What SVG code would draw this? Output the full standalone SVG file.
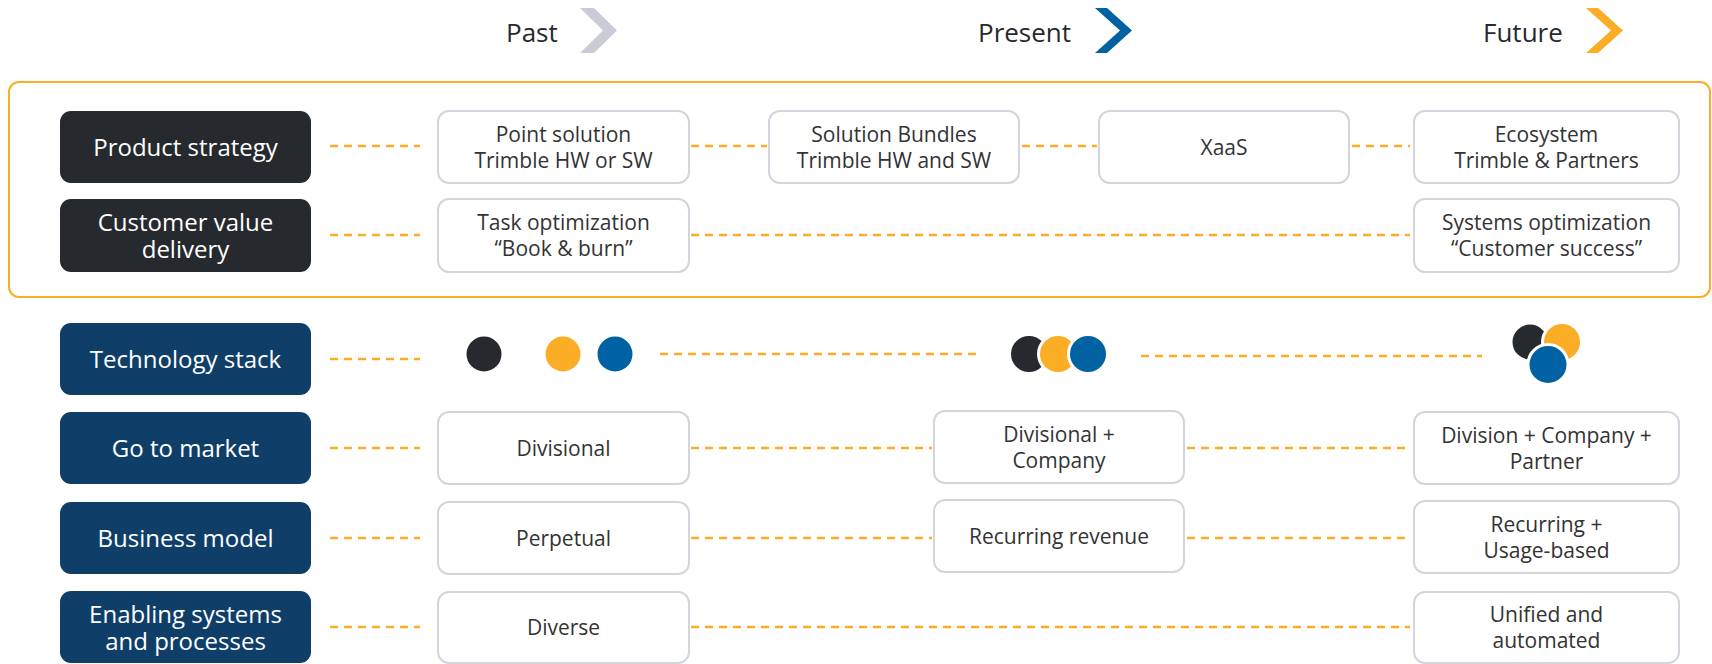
<svg xmlns="http://www.w3.org/2000/svg" width="1712" height="664" viewBox="0 0 1712 664">
<style>
.hdr{font-family:"Open Sans","Liberation Sans",sans-serif;font-size:26px;fill:#262a2f}
.lbl{font-family:"Open Sans","Liberation Sans",sans-serif;font-size:24px;fill:#ffffff;text-anchor:middle}
.txt{font-family:"Open Sans","Liberation Sans",sans-serif;font-size:21px;fill:#333333;text-anchor:middle}
.dark{fill:#262a2e}
.navy{fill:#0f3f68}
.box{fill:#ffffff;stroke:#d3d5dc;stroke-width:2}
.con{stroke:#fbad26;stroke-width:2.5;stroke-dasharray:8 6;fill:none}
.cd{fill:#262a2e;stroke:#ffffff;stroke-width:3}
.cy{fill:#fbad26;stroke:#ffffff;stroke-width:3}
.cb{fill:#0062a3;stroke:#ffffff;stroke-width:3}
</style>
<rect width="1712" height="664" fill="#ffffff"/>

<g id="header">
<text class="hdr" x="506" y="42">Past</text>
<polygon points="580,8 594,8 617,30.5 594,53 580,53 603,30.5" fill="#c9ccd6"/>
<text class="hdr" x="978" y="42">Present</text>
<polygon points="1095,8 1107,8 1132,30.5 1107,53 1095,53 1120,30.5" fill="#0062a3"/>
<text class="hdr" x="1483" y="42">Future</text>
<polygon points="1586,8 1598,8 1623,30.5 1598,53 1586,53 1611,30.5" fill="#fbad26"/>
</g>

<rect id="outer-frame" x="9" y="82" width="1701" height="215" rx="10" fill="none" stroke="#fbad26" stroke-width="2"/>

<g id="connectors">
<line class="con" x1="330" y1="146" x2="420" y2="146"/>
<line class="con" x1="691" y1="146" x2="767" y2="146"/>
<line class="con" x1="1022" y1="146" x2="1097" y2="146"/>
<line class="con" x1="1352" y1="146" x2="1410" y2="146"/>
<line class="con" x1="330" y1="235" x2="420" y2="235"/>
<line class="con" x1="691" y1="235" x2="1410" y2="235"/>
<line class="con" x1="330" y1="359" x2="420" y2="359"/>
<line class="con" x1="660" y1="354" x2="976" y2="354"/>
<line class="con" x1="1141" y1="356" x2="1482" y2="356"/>
<line class="con" x1="330" y1="448" x2="420" y2="448"/>
<line class="con" x1="691" y1="448" x2="932" y2="448"/>
<line class="con" x1="1187" y1="448" x2="1410" y2="448"/>
<line class="con" x1="330" y1="538" x2="420" y2="538"/>
<line class="con" x1="691" y1="538" x2="932" y2="538"/>
<line class="con" x1="1187" y1="538" x2="1410" y2="538"/>
<line class="con" x1="330" y1="627" x2="420" y2="627"/>
<line class="con" x1="691" y1="627" x2="1410" y2="627"/>
</g>

<g id="label-product-strategy">
<rect class="dark" x="60" y="111" width="251" height="72" rx="11"/>
<text class="lbl" x="185.5" y="155.5">Product strategy</text>
</g>
<g id="label-customer-value">
<rect class="dark" x="60" y="199" width="251" height="73" rx="11"/>
<text class="lbl" x="185.5" y="231">Customer value</text>
<text class="lbl" x="185.5" y="258">delivery</text>
</g>
<g id="label-technology">
<rect class="navy" x="60" y="323" width="251" height="72" rx="11"/>
<text class="lbl" x="185.5" y="367.5">Technology stack</text>
</g>
<g id="label-go-to-market">
<rect class="navy" x="60" y="412" width="251" height="72" rx="11"/>
<text class="lbl" x="185.5" y="456.5">Go to market</text>
</g>
<g id="label-business-model">
<rect class="navy" x="60" y="502" width="251" height="72" rx="11"/>
<text class="lbl" x="185.5" y="546.5">Business model</text>
</g>
<g id="label-enabling">
<rect class="navy" x="60" y="591" width="251" height="72" rx="11"/>
<text class="lbl" x="185.5" y="622.5">Enabling systems</text>
<text class="lbl" x="185.5" y="649.5">and processes</text>
</g>

<g id="point-solution">
<rect class="box" x="438" y="111" width="251" height="72" rx="11"/>
<text class="txt" x="563.5" y="141.5">Point solution</text>
<text class="txt" x="563.5" y="167.5">Trimble HW or SW</text>
</g>
<g id="solution-bundles">
<rect class="box" x="769" y="111" width="250" height="72" rx="11"/>
<text class="txt" x="894" y="141.5">Solution Bundles</text>
<text class="txt" x="894" y="167.5">Trimble HW and SW</text>
</g>
<g id="xaas">
<rect class="box" x="1099" y="111" width="250" height="72" rx="11"/>
<text class="txt" x="1224" y="154.5">XaaS</text>
</g>
<g id="ecosystem">
<rect class="box" x="1414" y="111" width="265" height="72" rx="11"/>
<text class="txt" x="1546.5" y="141.5">Ecosystem</text>
<text class="txt" x="1546.5" y="167.5">Trimble &amp; Partners</text>
</g>
<g id="task-optimization">
<rect class="box" x="438" y="199" width="251" height="73" rx="11"/>
<text class="txt" x="563.5" y="230">Task optimization</text>
<text class="txt" x="563.5" y="256">“Book &amp; burn”</text>
</g>
<g id="systems-optimization">
<rect class="box" x="1414" y="199" width="265" height="73" rx="11"/>
<text class="txt" x="1546.5" y="230">Systems optimization</text>
<text class="txt" x="1546.5" y="256">“Customer success”</text>
</g>

<g id="tech-past">
<circle class="cd" cx="484" cy="354" r="19" stroke="none"/>
<circle class="cy" cx="563" cy="354" r="19" stroke="none"/>
<circle class="cb" cx="615" cy="354" r="19" stroke="none"/>
</g>
<g id="tech-present">
<circle class="cd" cx="1029" cy="354" r="19.5"/>
<circle class="cy" cx="1058" cy="354" r="19.5"/>
<circle class="cb" cx="1088" cy="354" r="19.5"/>
</g>
<g id="tech-future">
<circle class="cd" cx="1530" cy="342" r="19"/>
<circle class="cy" cx="1562" cy="342" r="19.5"/>
<circle class="cb" cx="1548" cy="364.5" r="20"/>
</g>

<g id="divisional">
<rect class="box" x="438" y="412" width="251" height="72" rx="11"/>
<text class="txt" x="563.5" y="455.5">Divisional</text>
</g>
<g id="divisional-company">
<rect class="box" x="934" y="411" width="250" height="72" rx="11"/>
<text class="txt" x="1059" y="441.5">Divisional +</text>
<text class="txt" x="1059" y="467.5">Company</text>
</g>
<g id="division-company-partner">
<rect class="box" x="1414" y="412" width="265" height="72" rx="11"/>
<text class="txt" x="1546.5" y="442.5">Division + Company +</text>
<text class="txt" x="1546.5" y="468.5">Partner</text>
</g>
<g id="perpetual">
<rect class="box" x="438" y="502" width="251" height="72" rx="11"/>
<text class="txt" x="563.5" y="545.5">Perpetual</text>
</g>
<g id="recurring-revenue">
<rect class="box" x="934" y="500" width="250" height="72" rx="11"/>
<text class="txt" x="1059" y="543.5">Recurring revenue</text>
</g>
<g id="recurring-usage">
<rect class="box" x="1414" y="501" width="265" height="72" rx="11"/>
<text class="txt" x="1546.5" y="531.5">Recurring +</text>
<text class="txt" x="1546.5" y="557.5">Usage-based</text>
</g>
<g id="diverse">
<rect class="box" x="438" y="592" width="251" height="71" rx="11"/>
<text class="txt" x="563.5" y="634.5">Diverse</text>
</g>
<g id="unified">
<rect class="box" x="1414" y="592" width="265" height="71" rx="11"/>
<text class="txt" x="1546.5" y="621.5">Unified and</text>
<text class="txt" x="1546.5" y="647.5">automated</text>
</g>
</svg>
